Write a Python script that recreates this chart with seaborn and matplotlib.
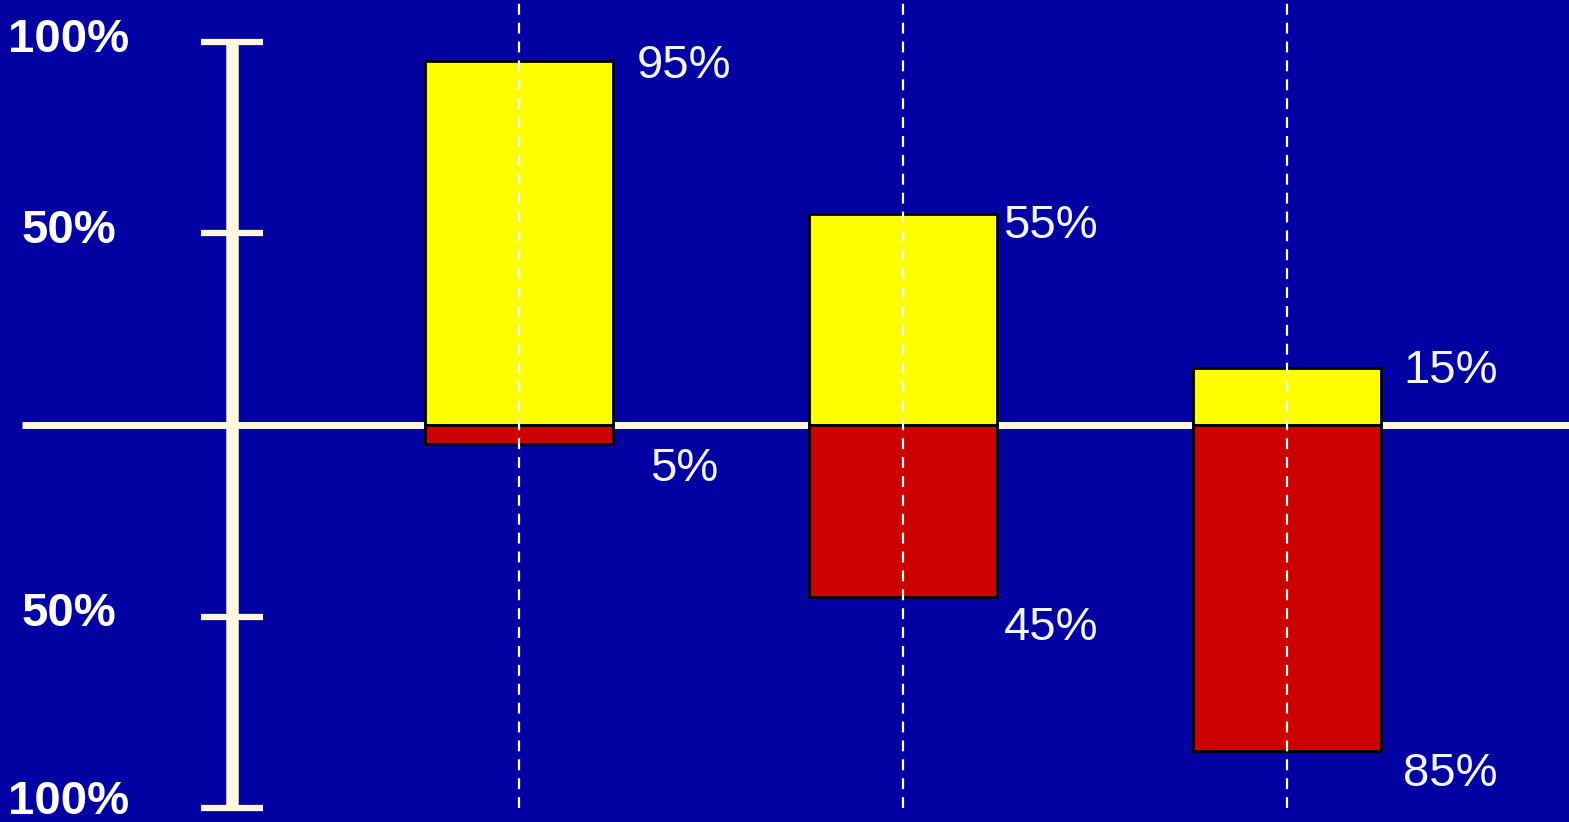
import matplotlib
matplotlib.use("Agg")
import matplotlib.pyplot as plt
import seaborn as sns
import pandas as pd

# ---- data ----
categories = ["A", "B", "C"]
positive = [95, 55, 15]
negative = [5, 45, 85]
axis_ticks = [100, 50, -50, -100]
axis_tick_labels = ["100%", "50%", "50%", "100%"]

sns.set_theme(style="white")
plt.rcParams['font.family'] = ['Liberation Sans', 'DejaVu Sans']

BG = "#0202A2"
CREAM = "#FFF8DC"

fig = plt.figure(figsize=(15.69, 8.22), dpi=100, facecolor=BG)
ax = fig.add_axes([0, 0, 1, 1])
ax.set_facecolor(BG)

df = pd.DataFrame({"cat": categories, "pos": positive,
                   "neg": [-v for v in negative]})

sns.barplot(data=df, x="cat", y="pos", color="#FFFF00", saturation=1,
            width=0.49, edgecolor="black", linewidth=2, ax=ax, zorder=2)
sns.barplot(data=df, x="cat", y="neg", color="#CC0000", saturation=1,
            width=0.49, edgecolor="black", linewidth=2, ax=ax, zorder=2)

# limits mapping to figure pixels
ax.set_xlim(-519 / 384, (1569 - 519) / 384)
ax.set_ylim(-(822 - 425) / 383 * 100, 425 / 383 * 100)
ax.axis("off")

# zero line
x_zero_start = (22 - 519) / 384
ax.plot([x_zero_start, ax.get_xlim()[1]], [0, 0], color=CREAM, lw=5,
        zorder=1, solid_capstyle="butt")

# dashed guides at bar centres
for i in range(len(categories)):
    ax.plot([i, i], [-100, 112], color="white", lw=1.6,
            linestyle=(0, (4.9, 3.6)), zorder=3)

# vertical scale
ax_x = (232 - 519) / 384
tick_half = 31 / 384
ax.plot([ax_x, ax_x], [-100, 100], color=CREAM, lw=9, zorder=4,
        solid_capstyle="butt")
for t in axis_ticks:
    ax.plot([ax_x - tick_half, ax_x + tick_half], [t, t], color=CREAM,
            lw=4.5, zorder=4, solid_capstyle="butt")
lab_x = (69 - 519) / 384
lab_dy = [0.6, 0.6, 0.6, 1.6]
for t, lab, dy in zip(axis_ticks, axis_tick_labels, lab_dy):
    ax.text(lab_x, t + dy, lab, color="white", fontsize=34,
            fontweight="bold", ha="center", va="center", zorder=5)

# value labels
top_dx = [0.552, 0.508, 0.549]
bot_dx = [0.518, 0.508, 0.549]
top_dy = [-1.2, -3.0, -0.8]
bot_dy = [-6.5, -8.0, -6.0]
for i, (p, n) in enumerate(zip(positive, negative)):
    ax.text(i + top_dx[i], p + top_dy[i], f"{p}%", color="#F4F4FF",
            fontsize=34, ha="right", va="center", zorder=5)
    ax.text(i + bot_dx[i], -n + bot_dy[i], f"{n}%", color="#F4F4FF",
            fontsize=34, ha="right", va="center", zorder=5)

fig.savefig("out.png", dpi=100, facecolor=BG)
